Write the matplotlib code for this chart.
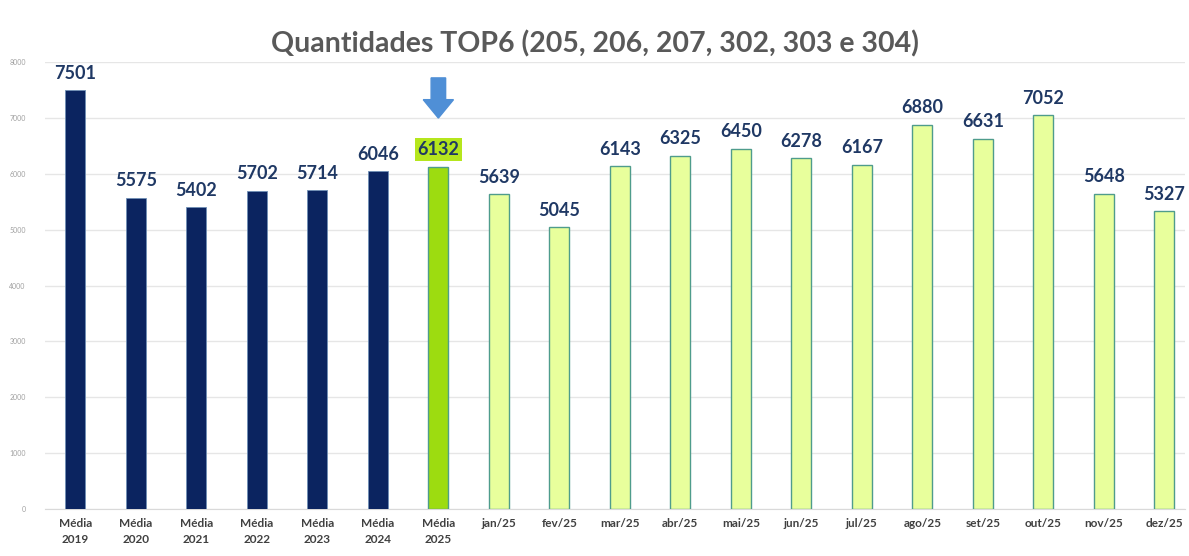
import matplotlib.pyplot as plt
from matplotlib.patches import FancyArrow

plt.rcParams['font.family'] = ['Lato', 'DejaVu Sans']

categories = ['Média\n2019', 'Média\n2020', 'Média\n2021', 'Média\n2022', 'Média\n2023',
              'Média\n2024', 'Média\n2025', 'jan/25', 'fev/25', 'mar/25', 'abr/25',
              'mai/25', 'jun/25', 'jul/25', 'ago/25', 'set/25', 'out/25', 'nov/25', 'dez/25']
values = [7501, 5575, 5402, 5702, 5714, 6046, 6132, 5639, 5045, 6143, 6325,
          6450, 6278, 6167, 6880, 6631, 7052, 5648, 5327]
yticks = [0, 1000, 2000, 3000, 4000, 5000, 6000, 7000, 8000]

navy = '#0b2460'
light = '#e8ff9c'
highlight = '#9ddc10'
edge = '#4f9c8c'

fig = plt.figure(figsize=(11.89, 5.56), dpi=100)
ax = fig.add_axes([0.038, 0.085, 0.959, 0.803])

x = list(range(len(values)))
for i, v in enumerate(values):
    if i < 6:
        ax.bar(i, v, width=0.33, color=navy, edgecolor='#6f8fb5', linewidth=0.6, zorder=3)
    elif i == 6:
        ax.bar(i, v, width=0.33, color=highlight, edgecolor=edge, linewidth=1.0, zorder=3)
    else:
        ax.bar(i, v, width=0.33, color=light, edgecolor=edge, linewidth=1.0, zorder=3)

for i, v in enumerate(values):
    if i == 6:
        ax.annotate(str(v), (i, v), xytext=(0, 6), textcoords='offset points',
                    ha='center', va='bottom', fontsize=13, fontweight='bold', color='#1f3864',
                    bbox=dict(boxstyle='square,pad=0.15', facecolor='#b5e61d', edgecolor='none'))
    else:
        ax.annotate(str(v), (i, v), xytext=(0, 6), textcoords='offset points',
                    ha='center', va='bottom', fontsize=13, fontweight='bold', color='#1f3864')

# arrow pointing at the 2025 average
ax.add_patch(FancyArrow(6, 7720, 0, -720, width=0.24, head_width=0.5, head_length=330,
                        length_includes_head=True, color='#4f8fd6', zorder=4, clip_on=False))

ax.set_xlim(-0.5, 18.35)
ax.set_ylim(0, 8000)
ax.set_yticks(yticks)
ax.set_yticklabels([str(t) for t in yticks])
ax.tick_params(axis='y', labelsize=5, colors='#a0a0a0', length=0, pad=14)
ax.set_xticks(x)
ax.set_xticklabels(categories, linespacing=1.5)
ax.tick_params(axis='x', labelsize=8.5, colors='#404040', length=0, pad=7)
for lbl in ax.get_xticklabels():
    lbl.set_fontweight('bold')

ax.grid(axis='y', color='#e6e6e6', linewidth=1, zorder=0)
for s in ['top', 'right', 'left']:
    ax.spines[s].set_visible(False)
ax.spines['bottom'].set_color('#d9d9d9')

fig.suptitle('Quantidades TOP6 (205, 206, 207, 302, 303 e 304)', y=0.945, fontsize=20.5,
             fontweight='bold', color='#595959')

fig.savefig('out.png', dpi=100)
